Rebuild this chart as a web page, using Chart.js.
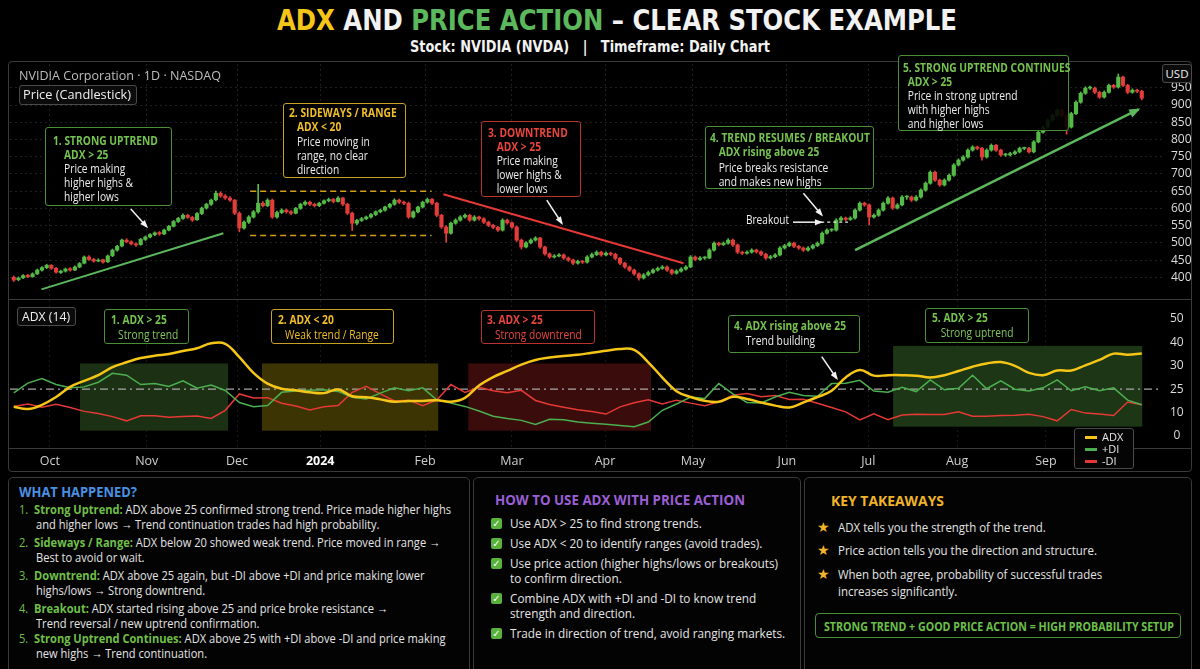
<!DOCTYPE html>
<html>
<head>
<meta charset="utf-8">
<script src="https://cdn.jsdelivr.net/npm/chart.js@4.4.0/dist/chart.umd.min.js"></script>
<style>
  html, body { margin: 0; padding: 0; background: #000; width: 1200px; height: 669px; overflow: hidden; }
  body { position: relative; color: #e6e6e6; font-family: "Open Sans", "Noto Sans", sans-serif; }
  .abs { position: absolute; }
  .fit { display: inline-block; white-space: nowrap; transform-origin: left center; }
  #title { left: 277px; top: 5px; font-size: 29px; line-height: 30px; font-weight: bold; color: #f2f2f2; font-family: "Liberation Sans Narrow", "DejaVu Sans Condensed", "DejaVu Sans", sans-serif; }
  #subtitle { left: 410px; top: 38px; font-size: 15px; line-height: 18px; font-weight: bold; color: #f2f2f2; font-family: "Liberation Sans Narrow", "DejaVu Sans Condensed", "DejaVu Sans", sans-serif; }
  #mainPanel { left: 8px; top: 61px; width: 1184px; height: 411px; border: 1px solid #3a3a3a; border-radius: 4px; box-sizing: border-box; }
  .hline { position: absolute; left: 9px; width: 1182px; height: 1px; background: #3a3a3a; }
  canvas { position: absolute; }
  .tag { position: absolute; border: 1px solid #4a4a4a; border-radius: 3px; background: #0b0b0b; color: #f0f0f0; font-size: 13px; line-height: 17px; text-align: center; box-sizing: border-box; }
  .box { position: absolute; border: 1.5px solid; border-radius: 3px; background: rgba(0,0,0,0.88); box-sizing: border-box; white-space: nowrap; font-size: 13px; line-height: 14px; overflow: visible; }
  .inner { display: inline-block; transform-origin: 0 0; }
  .box .t { font-weight: bold; }
  .box .w { color: #ececec; }
  .g { border-color: #4a8f35; } .g .t { color: #74c24f; }
  .y { border-color: #c7a122; } .y .t { color: #f0be2a; }
  .r { border-color: #b8332d; } .r .t { color: #e8453c; }
  .panel { position: absolute; top: 477px; height: 200px; border: 1px solid #3a3a3a; border-radius: 5px; box-sizing: border-box; background: #030303; }
  .ph { position: absolute; font-weight: bold; font-size: 15px; line-height: 18px; white-space: nowrap; transform-origin: left center; }
  .item { position: absolute; font-size: 13px; line-height: 15px; white-space: nowrap; color: #e4e4e4; transform-origin: left center; }
  .num { color: #6fbf48; }
  .hl { color: #6fbf48; font-weight: bold; }
  .chk { position: absolute; width: 11px; height: 11px; border-radius: 2px; background: #58b23c; color: #fff; font-size: 10px; line-height: 11px; text-align: center; font-family: "DejaVu Sans", sans-serif; font-weight: bold; }
  .star { position: absolute; color: #f0b429; font-size: 14px; line-height: 15px; font-family: "DejaVu Sans", sans-serif; }
</style>
</head>
<body>

<div id="title" class="abs fit" data-fit="680"><span style="color:#f5c518">ADX</span> AND <span style="color:#5cb85c">PRICE ACTION</span> – CLEAR STOCK EXAMPLE</div>
<div id="subtitle" class="abs fit" data-fit="360">Stock: NVIDIA (NVDA) &nbsp;&nbsp;|&nbsp;&nbsp; Timeframe: Daily Chart</div>

<div id="mainPanel" class="abs"></div>
<div class="hline" style="top:299px"></div>
<div class="hline" style="top:448px"></div>

<canvas id="priceChart" width="1182" height="234" style="left:10px;top:64px"></canvas>
<canvas id="adxChart" width="1182" height="172" style="left:10px;top:300px"></canvas>

<!-- price pane labels -->
<div class="abs fit" data-fit="202" style="left:19px;top:67px;font-size:13px;line-height:16px;color:#bdbdbd">NVIDIA Corporation · 1D · NASDAQ</div>
<div class="tag" style="left:19px;top:85px;width:118px;height:20px"><span class="fit" data-fit="108">Price (Candlestick)</span></div>
<div class="tag" style="left:1162px;top:64px;width:30px;height:19px;font-size:11.5px">USD</div>

<div class="box g" style="left:45px;top:127px;width:127px;height:79px;padding:5px 0 0 7px"><div class="inner">
  <div class="t">1. STRONG UPTREND</div>
  <div style="padding-left:14px"><div class="t">ADX &gt; 25</div><div class="w">Price making</div><div class="w">higher highs &amp;</div><div class="w">higher lows</div></div>
</div></div>
<div class="box y" style="left:283px;top:103px;width:123px;height:75px;padding:1px 0 0 5px"><div class="inner" style="line-height:14.3px">
  <div class="t">2. SIDEWAYS / RANGE</div>
  <div style="padding-left:10px"><div class="t">ADX &lt; 20</div><div class="w">Price moving in</div><div class="w">range, no clear</div><div class="w">direction</div></div>
</div></div>
<div class="box r" style="left:481px;top:121px;width:100px;height:76px;padding:3px 0 0 6px"><div class="inner">
  <div class="t">3. DOWNTREND</div>
  <div style="padding-left:11px"><div class="t">ADX &gt; 25</div><div class="w">Price making</div><div class="w">lower highs &amp;</div><div class="w">lower lows</div></div>
</div></div>
<div class="box g" style="left:705px;top:126px;width:169px;height:63px;padding:3px 0 0 4px"><div class="inner" id="boxRef">
  <div class="t"><span id="boxRefLine">4. TREND RESUMES / BREAKOUT</span></div>
  <div style="padding-left:11px"><div class="t">ADX rising above 25</div><div class="w" style="margin-top:2px">Price breaks resistance</div><div class="w">and makes new highs</div></div>
</div></div>
<div class="box g" style="left:898px;top:55px;width:171px;height:76px;padding:4px 0 0 4px"><div class="inner">
  <div class="t">5. STRONG UPTREND CONTINUES</div>
  <div style="padding-left:6px"><div class="t">ADX &gt; 25</div><div class="w">Price in strong uptrend</div><div class="w">with higher highs</div><div class="w">and higher lows</div></div>
</div></div>
<div class="abs fit" data-fit="43" style="left:746px;top:213px;font-size:12.5px;line-height:14px;color:#f0f0f0">Breakout</div>

<!-- ADX pane labels -->
<div class="tag" style="left:17px;top:307px;width:59px;height:19px;font-size:12.5px"><span class="fit" data-fit="48">ADX (14)</span></div>
<div class="box g" style="left:104px;top:309px;width:85px;height:35px;padding:2px 0 0 6px"><div class="inner" style="line-height:15px">
  <div class="t">1. ADX &gt; 25</div><div style="padding-left:9px;color:#7fc65e">Strong trend</div>
</div></div>
<div class="box y" style="left:271px;top:309px;width:123px;height:35px;padding:2px 0 0 6px"><div class="inner" style="line-height:15px">
  <div class="t">2. ADX &lt; 20</div><div style="padding-left:9px;color:#f0be2a">Weak trend / Range</div>
</div></div>
<div class="box r" style="left:481px;top:310px;width:114px;height:34px;padding:1px 0 0 5px"><div class="inner" style="line-height:15px">
  <div class="t">3. ADX &gt; 25</div><div style="padding-left:10px;color:#e8453c">Strong downtrend</div>
</div></div>
<div class="box g" style="left:728px;top:315px;width:132px;height:38px;padding:2px 0 0 5px"><div class="inner" style="line-height:15px">
  <div class="t">4. ADX rising above 25</div><div class="w" style="padding-left:15px">Trend building</div>
</div></div>
<div class="box g" style="left:925px;top:308px;width:104px;height:35px;padding:1px 0 0 6px"><div class="inner" style="line-height:15px">
  <div class="t">5. ADX &gt; 25</div><div style="padding-left:11px;color:#7fc65e">Strong uptrend</div>
</div></div>

<div class="abs" style="left:1074px;top:428px;width:60px;height:41px;border:1px solid #4a4a4a;border-radius:3px;background:#050505;box-sizing:border-box;font-size:11px;color:#e4e4e4">
  <div class="abs" style="left:10px;top:7px;width:12px;height:3px;background:#f5c518"></div><div class="abs" style="left:27px;top:1px;line-height:13px">ADX</div>
  <div class="abs" style="left:10px;top:19px;width:12px;height:3px;background:#4caf50"></div><div class="abs" style="left:27px;top:13px;line-height:13px">+DI</div>
  <div class="abs" style="left:10px;top:31px;width:12px;height:3px;background:#e53935"></div><div class="abs" style="left:27px;top:25px;line-height:13px">-DI</div>
</div>

<!-- bottom panels -->
<div class="panel" style="left:8px;width:462px"></div>
<div class="panel" style="left:473px;width:328px"></div>
<div class="panel" style="left:804px;width:388px"></div>

<div class="ph fit" data-fit="118" style="left:19px;top:482px;color:#4a90e2">WHAT HAPPENED?</div>
<div class="item p1" id="p1ref" style="left:19px;top:502px"><span class="num">1.&nbsp;&nbsp;</span><span class="hl">Strong Uptrend:</span> ADX above 25 confirmed strong trend. Price made higher highs</div>
<div class="item p1" style="left:36px;top:517px">and higher lows → Trend continuation trades had high probability.</div>
<div class="item p1" style="left:19px;top:535px"><span class="num">2.&nbsp;&nbsp;</span><span class="hl">Sideways / Range:</span> ADX below 20 showed weak trend. Price moved in range →</div>
<div class="item p1" style="left:36px;top:550px">Best to avoid or wait.</div>
<div class="item p1" style="left:19px;top:568px"><span class="num">3.&nbsp;&nbsp;</span><span class="hl">Downtrend:</span> ADX above 25 again, but -DI above +DI and price making lower</div>
<div class="item p1" style="left:36px;top:583px">highs/lows → Strong downtrend.</div>
<div class="item p1" style="left:19px;top:601px"><span class="num">4.&nbsp;&nbsp;</span><span class="hl">Breakout:</span> ADX started rising above 25 and price broke resistance →</div>
<div class="item p1" style="left:36px;top:616px">Trend reversal / new uptrend confirmation.</div>
<div class="item p1" style="left:19px;top:631px"><span class="num">5.&nbsp;&nbsp;</span><span class="hl">Strong Uptrend Continues:</span> ADX above 25 with +DI above -DI and price making</div>
<div class="item p1" style="left:36px;top:646px">new highs → Trend continuation.</div>

<div class="ph fit" data-fit="250" style="left:495px;top:490px;color:#9b5fd6">HOW TO USE ADX WITH PRICE ACTION</div>
<div class="chk" style="left:491px;top:518px">✓</div><div class="item p2" style="left:510px;top:516px">Use ADX &gt; 25 to find strong trends.</div>
<div class="chk" style="left:491px;top:538px">✓</div><div class="item p2" style="left:510px;top:536px">Use ADX &lt; 20 to identify ranges (avoid trades).</div>
<div class="chk" style="left:491px;top:558px">✓</div><div class="item p2" id="p2ref" style="left:510px;top:556px">Use price action (higher highs/lows or breakouts)</div>
<div class="item p2" style="left:510px;top:571px">to confirm direction.</div>
<div class="chk" style="left:491px;top:593px">✓</div><div class="item p2" style="left:510px;top:591px">Combine ADX with +DI and -DI to know trend</div>
<div class="item p2" style="left:510px;top:606px">strength and direction.</div>
<div class="chk" style="left:491px;top:628px">✓</div><div class="item p2" style="left:510px;top:626px">Trade in direction of trend, avoid ranging markets.</div>

<div class="ph fit" data-fit="113" style="left:831px;top:491px;color:#f0b429">KEY TAKEAWAYS</div>
<div class="star" style="left:817px;top:520px">★</div><div class="item p3" style="left:838px;top:520px">ADX tells you the strength of the trend.</div>
<div class="star" style="left:817px;top:543px">★</div><div class="item p3" id="p3ref" style="left:838px;top:543px">Price action tells you the direction and structure.</div>
<div class="star" style="left:817px;top:567px">★</div><div class="item p3" style="left:838px;top:567px">When both agree, probability of successful trades</div>
<div class="item p3" style="left:838px;top:584px">increases significantly.</div>
<div class="abs" style="left:815px;top:613px;width:366px;height:25px;border:1.5px solid #4a8f35;border-radius:4px;box-sizing:border-box;line-height:22px;padding-left:8px">
  <span class="fit" data-fit="350" style="color:#6cc04a;font-weight:bold;font-size:12px">STRONG TREND + GOOD PRICE ACTION = HIGH PROBABILITY SETUP</span>
</div>

<script>
// ---- price (daily candles, index 0 = first bar) ----
const opens = [
  400,393,399,406,402,410,421,428,435,426, 414,418,425,421,430,441,459,452,447,451,
  445,463,479,491,508,503,497,495,510,517, 524,530,526,537,548,562,571,580,574,567,
  585,601,612,625,644,636,630,624,586,543, 560,575,590,615,608,624,575,588,595,590,
  586,600,612,618,612,608,615,622,626,620, 630,612,586,557,565,570,575,582,590,595,
  604,612,624,618,615,575,590,604,618,626, 615,580,546,528,557,566,575,580,566,575,
  570,560,551,545,537,566,558,546,508,488, 500,508,514,488,468,459,462,465,456,450,
  441,446,444,459,466,473,465,470,467,455, 441,430,421,410,398,407,414,421,426,430,
  421,412,418,424,430,459,452,456,456,479, 499,495,499,508,494,473,470,473,479,474,
  467,456,460,465,485,492,499,490,485,479, 485,492,499,528,537,537,566,572,568,572,
  595,615,610,575,580,595,615,630,601,610, 633,633,624,633,653,673,705,682,668,682,
  696,726,740,749,769,778,774,749,769,783, 769,755,755,759,764,774,774,764,793,821,
  836,856,870,885,870,836,875,908,934,949, 949,937,923,937,957,952,981,957,937,943,940
];
const highs = [
  404,401,408,409,413,424,431,438,437,429, 421,427,428,433,443,462,463,455,454,453,
  465,482,493,511,512,506,500,513,520,527, 532,533,540,551,565,574,584,583,577,588,
  604,615,627,650,648,640,634,626,590,564, 579,594,670,620,628,627,592,599,598,594,
  603,615,622,621,615,618,625,630,629,634, 632,615,589,568,574,578,586,593,598,607,
  615,628,627,621,618,593,607,621,630,629, 618,583,550,560,570,579,584,583,579,578,
  573,563,554,548,570,569,561,549,511,504, 512,518,516,491,471,466,469,468,459,453,
  450,449,463,470,477,476,474,473,470,458, 444,433,424,413,411,418,425,430,434,433,
  424,422,428,434,463,462,460,460,483,503, 502,503,512,511,497,476,477,483,482,477,
  470,464,469,489,496,503,502,493,488,489, 496,503,532,541,541,570,576,575,576,599,
  619,618,613,584,599,619,634,633,614,637, 637,636,637,657,677,709,708,685,686,700,
  730,744,753,773,782,781,777,773,787,786, 772,760,763,768,778,778,777,797,825,840,
  860,874,889,888,873,879,912,938,953,955, 952,940,941,961,960,990,984,960,947,946,943
];
const lows = [
  388,390,396,399,400,408,418,425,423,412, 411,415,418,419,428,439,449,444,445,441,
  443,460,476,488,500,494,490,493,507,514, 521,522,524,535,546,559,568,571,562,565,
  582,598,609,622,632,626,620,582,532,540, 556,572,586,604,605,571,572,585,586,582,
  584,597,609,608,604,605,612,619,616,618, 608,582,536,553,562,567,572,579,587,592,
  601,609,614,611,571,572,587,601,615,611, 576,542,502,525,554,563,572,562,563,566,
  556,547,541,533,534,554,542,504,482,485, 497,505,484,464,455,456,459,452,446,437,
  438,440,441,456,463,461,462,463,451,437, 426,417,406,392,395,404,411,418,423,417,
  408,409,415,421,428,448,449,452,454,476, 491,492,496,490,469,466,467,470,470,463,
  452,453,457,462,482,489,486,481,475,476, 482,489,496,525,533,534,563,564,565,569,
  592,606,552,572,577,592,612,597,598,607, 626,620,621,630,650,670,678,664,665,679,
  693,723,737,746,766,770,740,746,766,765, 751,751,752,756,761,770,760,761,790,818,
  833,853,867,866,815,833,872,905,931,945, 933,919,920,934,948,949,953,933,934,936,915
];
const closes = [
  392,398,405,402,410,421,428,435,426,415, 418,424,421,430,440,459,452,447,450,444,
  462,479,490,508,503,497,494,510,517,524, 529,526,537,548,562,571,580,574,566,585,
  601,612,624,644,636,630,624,586,543,560, 575,590,615,608,624,575,588,595,590,586,
  600,612,618,612,608,615,622,626,620,630, 612,586,557,565,570,575,582,590,595,604,
  612,624,618,615,575,590,604,618,626,615, 580,546,528,557,566,575,580,566,575,570,
  560,551,545,537,566,558,546,508,488,500, 508,514,488,468,459,462,465,456,450,441,
  446,444,459,466,473,465,470,467,455,441, 430,421,410,398,407,414,421,426,430,421,
  412,418,424,430,459,452,456,456,479,499, 495,499,508,494,473,470,473,479,474,467,
  456,460,465,485,492,499,490,485,479,485, 492,499,528,537,537,566,572,568,572,595,
  615,610,575,580,595,615,630,601,610,633, 633,624,633,653,673,705,682,668,682,696,
  726,740,749,769,778,774,749,769,783,769, 755,755,759,764,774,774,764,793,821,836,
  856,870,885,870,836,875,908,934,949,949, 937,923,937,957,952,981,957,937,943,940,920
];
const priceTicks = [400, 450, 500, 550, 600, 650, 700, 750, 800, 850, 900, 950];

// ---- ADX(14), one reading every 3 bars ----
const ADX_STEP = 3;
const adx = [
  13.8,12.3,15,20,25.5,26.8,28,29.7,31.5,33.3, 34.3,35,36.3,37.5,39.6,39.4,33.7,28.5,26.2,25.1,
  24.3,23,22.5,24.8,20.5,19.8,18.5,17,17.5,17.5, 18,17,19.5,25.8,27.6,28.9,30.5,32.5,33.5,34.2,
  34.7,35.6,36.4,37.2,36.8,31.5,27.5,23.7,20,17.6, 17,20.1,18.8,16.5,14.5,13.3,16.5,20,24,27.5,
  29.1,27.9,28,28,27.9,27.5,28,28.9,29.8,31, 31.6,30,28.5,28,29,29,30.2,32.5,35.2,34.7, 35.3
];
const plusDI = [
  22.6,26.3,27.3,26,25.3,25.5,26.5,28.4,28,26, 26.2,25.6,26.8,25.2,25.9,24.2,16.5,13.8,14.5,23,
  23.9,24.3,24.7,23.6,19.8,18.8,22.5,25.3,24,25.3, 18.2,16.1,14,11,8.5,7.5,6.7,5,7.2,7,
  6,5.5,5,4.5,4,6,11.5,15.5,20,19, 26.2,22,16.5,16.2,20,23,21,20.5,26.2,26.3,
  26.9,23.8,23.1,25.4,23.5,27,24.6,25.2,28,25.1, 26.8,25,23.8,25.3,27,24,25.5,24,25.3,18, 15
];
const minusDI = [
  14,15.5,13.5,15.3,13.3,10.8,9.6,8.3,6.5,8.7, 8.7,8,8.4,8.6,7.5,11.5,22,19.4,19.6,16,
  14.2,11.7,13.7,14.6,23,25.6,22,17.5,18,14.5, 18.1,26,23,25.4,24,22.8,24.3,17.8,15.2,13.5,
  11.9,10.7,9.4,13.7,16.3,18.2,15.5,18,16.1,14.5, 16.9,21.2,22.3,20.2,20.9,18.4,18.6,16,13.3,10.5,
  6.9,9.5,7,9,9.3,9.2,9.2,10.5,8.5,8.5, 8.8,8.9,9.3,8.3,6.5,12,9.8,9.4,8.8,16.8, 15
];
const adxTickValues = [0, 10, 25, 30, 40, 50];
const adxTickLabels = ['0', '10', '25', '30', '40', '50'];
const adxThreshold = 25;

// ---- time axis ----
const monthLabels = ['Oct', 'Nov', 'Dec', '2024', 'Feb', 'Mar', 'Apr', 'May', 'Jun', 'Jul', 'Aug', 'Sep'];
const monthBars = [7.7, 28.3, 47.5, 65.2, 87.5, 106, 125.8, 144.5, 164.5, 181.8, 200.7, 219.6];
const X_MIN = -0.8, X_MAX = 244.3;

// ---- annotations (bar index, price / ADX value) ----
const trendLines = [
  { from: [5.9, 365], to: [44.6, 528], color: '#5cb85c', width: 2 },
  { from: [91.4, 641], to: [142.5, 441], color: '#e53935', width: 2 },
  { from: [179, 479], to: [239.3, 887], color: '#5cb85c', width: 2.5, head: 10 }
];
const rangeBounds = { from: 50.3, to: 88.9, levels: [650, 521] };
const pointerArrows = [
  { from: [24.9, 598], to: [28.3, 547] },
  { from: [113.4, 624], to: [116.6, 557] },
  { from: [168, 644], to: [171.9, 581] },
  { from: [165.8, 560], to: [171.8, 560] }
];
const breakoutLevel = { from: 171.8, to: 177.5, price: 560 };
const adxZones = [
  { from: 14.1, to: 45.6, top: 31, bottom: 2.3, fill: '#1c3114' },
  { from: 52.8, to: 90.3, top: 31, bottom: 2.3, fill: '#3d3404' },
  { from: 96.7, to: 135.6, top: 31, bottom: 2.3, fill: '#3a0c0b' },
  { from: 187.1, to: 240.1, top: 38.5, bottom: 4, fill: '#1d3616' }
];
const adxArrow = { from: [171.9, 33.9], to: [175.1, 27.3] };

const UP = '#55bb47', DOWN = '#e33d3b';

function toPos(v) {
  for (let k = 1; k < adxTickValues.length; k++) {
    if (v <= adxTickValues[k]) {
      const a = adxTickValues[k - 1], b = adxTickValues[k];
      return k - 1 + (v - a) / (b - a);
    }
  }
  return adxTickValues.length - 1;
}

function arrow(ctx, x1, y1, x2, y2, color, width, head) {
  ctx.save();
  ctx.strokeStyle = color;
  ctx.fillStyle = color;
  ctx.lineWidth = width;
  ctx.beginPath();
  ctx.moveTo(x1, y1);
  ctx.lineTo(x2, y2);
  ctx.stroke();
  if (head) {
    const a = Math.atan2(y2 - y1, x2 - x1);
    ctx.beginPath();
    ctx.moveTo(x2 + Math.cos(a) * 2, y2 + Math.sin(a) * 2);
    ctx.lineTo(x2 - head * Math.cos(a - 0.45), y2 - head * Math.sin(a - 0.45));
    ctx.lineTo(x2 - head * Math.cos(a + 0.45), y2 - head * Math.sin(a + 0.45));
    ctx.closePath();
    ctx.fill();
  }
  ctx.restore();
}

const candleColors = closes.map((c, i) => c >= opens[i] ? UP : DOWN);
const wickData = closes.map((c, i) => ({ x: i, y: [lows[i], highs[i]] }));
const bodyData = closes.map((c, i) => ({ x: i, y: [opens[i], c] }));

const priceOverlay = {
  id: 'priceOverlay',
  afterDatasetsDraw(chart) {
    const { ctx, scales: { x, y } } = chart;
    const px = p => [x.getPixelForValue(p[0]), y.getPixelForValue(p[1])];

    ctx.save();
    ctx.strokeStyle = '#d4a017';
    ctx.lineWidth = 1.5;
    ctx.setLineDash([6, 4]);
    rangeBounds.levels.forEach(lv => {
      ctx.beginPath();
      ctx.moveTo(x.getPixelForValue(rangeBounds.from), y.getPixelForValue(lv));
      ctx.lineTo(x.getPixelForValue(rangeBounds.to), y.getPixelForValue(lv));
      ctx.stroke();
    });
    ctx.strokeStyle = '#e8e8e8';
    ctx.lineWidth = 1.2;
    ctx.setLineDash([3, 3]);
    ctx.beginPath();
    ctx.moveTo(x.getPixelForValue(breakoutLevel.from), y.getPixelForValue(breakoutLevel.price));
    ctx.lineTo(x.getPixelForValue(breakoutLevel.to), y.getPixelForValue(breakoutLevel.price));
    ctx.stroke();
    ctx.restore();

    trendLines.forEach(t => {
      const [x1, y1] = px(t.from), [x2, y2] = px(t.to);
      arrow(ctx, x1, y1, x2, y2, t.color, t.width, t.head);
    });
    pointerArrows.forEach(a => {
      const [x1, y1] = px(a.from), [x2, y2] = px(a.to);
      arrow(ctx, x1, y1, x2, y2, '#f2f2f2', 1.5, 7);
    });
  }
};

const adxOverlay = {
  id: 'adxOverlay',
  beforeDatasetsDraw(chart) {
    const { ctx, chartArea, scales: { x, y } } = chart;
    ctx.save();
    adxZones.forEach(z => {
      const x1 = x.getPixelForValue(z.from), x2 = x.getPixelForValue(z.to);
      const y1 = y.getPixelForValue(toPos(z.top)), y2 = y.getPixelForValue(toPos(z.bottom));
      ctx.fillStyle = z.fill;
      ctx.fillRect(x1, y1, x2 - x1, y2 - y1);
    });
    const ty = y.getPixelForValue(toPos(adxThreshold));
    ctx.strokeStyle = '#a8a8a8';
    ctx.lineWidth = 1.2;
    ctx.setLineDash([8, 4, 2, 4]);
    ctx.beginPath();
    ctx.moveTo(chartArea.left, ty);
    ctx.lineTo(chartArea.right - 2, ty);
    ctx.stroke();
    ctx.restore();
  },
  afterDatasetsDraw(chart) {
    const { ctx, scales: { x, y } } = chart;
    arrow(ctx,
      x.getPixelForValue(adxArrow.from[0]), y.getPixelForValue(toPos(adxArrow.from[1])),
      x.getPixelForValue(adxArrow.to[0]), y.getPixelForValue(toPos(adxArrow.to[1])),
      '#f2f2f2', 1.5, 7);
  }
};

Chart.defaults.font.family = '"Open Sans", "Noto Sans", sans-serif';
Chart.defaults.color = '#d8d8d8';

// keep the plot area flush with the canvas: drop Chart.js's label overhang padding
const flush = (s, size, key) => { s[key] = size; s.paddingTop = 0; s.paddingBottom = 0; s.paddingLeft = 0; s.paddingRight = 0; };

new Chart(document.getElementById('priceChart'), {
  type: 'bar',
  data: {
    datasets: [
      { data: wickData, backgroundColor: candleColors, barThickness: 1, grouped: false, order: 2 },
      { data: bodyData, backgroundColor: candleColors, barThickness: 3.5, grouped: false, minBarLength: 1, order: 1 }
    ]
  },
  options: {
    responsive: false,
    animation: false,
    layout: { padding: 0 },
    plugins: { legend: { display: false }, tooltip: { enabled: false } },
    scales: {
      x: {
        type: 'linear', min: X_MIN, max: X_MAX, offset: false,
        afterBuildTicks: s => { s.ticks = monthBars.map(v => ({ value: v })); },
        afterFit: s => flush(s, 0, 'height'),
        ticks: { display: false },
        grid: { color: '#1f1f1f', drawTicks: false, offset: false },
        border: { display: false, dash: [2, 3] }
      },
      y: {
        position: 'right', min: 340, max: 1019, beginAtZero: false,
        afterBuildTicks: s => { s.ticks = priceTicks.map(v => ({ value: v })); },
        afterFit: s => flush(s, 30, 'width'),
        ticks: { color: '#dcdcdc', font: { size: 12 }, padding: 9 },
        grid: { color: '#1f1f1f', drawTicks: false },
        border: { display: false, dash: [2, 3] }
      }
    }
  },
  plugins: [priceOverlay]
});

const seriesPoints = arr => arr.map((v, k) => ({ x: k * ADX_STEP, y: toPos(v) }));

new Chart(document.getElementById('adxChart'), {
  type: 'line',
  data: {
    datasets: [
      { label: 'ADX', data: seriesPoints(adx), borderColor: '#f5c518', borderWidth: 2.5, pointRadius: 0, tension: 0.4, order: 0 },
      { label: '+DI', data: seriesPoints(plusDI), borderColor: '#4caf50', borderWidth: 1.5, pointRadius: 0, tension: 0, order: 1 },
      { label: '-DI', data: seriesPoints(minusDI), borderColor: '#e53935', borderWidth: 1.5, pointRadius: 0, tension: 0, order: 2 }
    ]
  },
  options: {
    responsive: false,
    animation: false,
    layout: { padding: 0 },
    plugins: { legend: { display: false }, tooltip: { enabled: false } },
    scales: {
      x: {
        type: 'linear', min: X_MIN, max: X_MAX, offset: false,
        afterBuildTicks: s => { s.ticks = monthBars.map(v => ({ value: v })); },
        afterFit: s => flush(s, 24, 'height'),
        ticks: {
          padding: 6,
          maxRotation: 0,
          autoSkip: false,
          callback: (v, i) => monthLabels[i],
          color: c => monthLabels[c.index] === '2024' ? '#ffffff' : '#cfcfcf',
          font: c => ({ size: 12.5, weight: monthLabels[c.index] === '2024' ? 'bold' : 'normal' })
        },
        grid: { color: '#181818', drawTicks: false },
        border: { display: false, dash: [2, 3] }
      },
      y: {
        position: 'right', min: -0.51, max: 5.81,
        afterBuildTicks: s => { s.ticks = adxTickValues.map((v, i) => ({ value: i })); },
        afterFit: s => flush(s, 30, 'width'),
        ticks: { color: '#dcdcdc', font: { size: 12 }, padding: 0, crossAlign: 'center', callback: (v, i) => adxTickLabels[i] },
        grid: { display: false },
        border: { display: false }
      }
    }
  },
  plugins: [adxOverlay]
});

// squeeze text horizontally to the widths measured on the reference
function scaleTo(el, target) {
  const w = el.getBoundingClientRect().width;
  return w > 0 ? target / w : 1;
}
document.querySelectorAll('[data-fit]').forEach(el => {
  el.style.transform = 'scaleX(' + scaleTo(el, +el.dataset.fit) + ')';
});
const groups = [
  ['.p1', '#p1ref', 432],
  ['.p2', '#p2ref', 268],
  ['.p3', '#p3ref', 259],
  ['.inner', '#boxRefLine', 160]
];
groups.forEach(([sel, ref, target]) => {
  const k = scaleTo(document.querySelector(ref), target);
  document.querySelectorAll(sel).forEach(el => { el.style.transform = 'scaleX(' + k + ')'; });
});
</script>
</body>
</html>
